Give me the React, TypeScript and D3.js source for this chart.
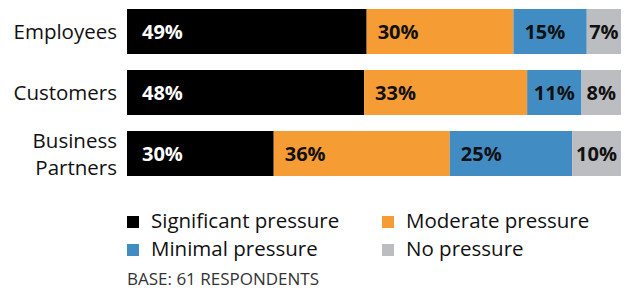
import React, { useEffect, useRef } from "react";
import * as d3 from "d3";

const categories = ["Employees", "Customers", "Business Partners"];
const seriesNames = ["Significant pressure", "Moderate pressure", "Minimal pressure", "No pressure"];
const significant = [49, 48, 30];
const moderate = [30, 33, 36];
const minimal = [15, 11, 25];
const noPressure = [7, 8, 10];
const colors = ["#000000", "#F59C34", "#428CC4", "#BCBDC0"];
const labelColors = ["#ffffff", "#111111", "#111111", "#111111"];
const footnote = "BASE: 61 RESPONDENTS";

const App: React.FC = () => {
  const svgRef = useRef<SVGSVGElement>(null);

  useEffect(() => {
    if (!svgRef.current) return;
    const svg = d3.select(svgRef.current);
    svg.selectAll("*").remove();

    const font = "'Open Sans', sans-serif";
    const left = 127;
    const right = 621;
    const values = [significant, moderate, minimal, noPressure];

    // 45px bars on a 61px step
    const y = d3.scaleBand<string>()
      .domain(categories)
      .range([9, 176])
      .paddingInner(16 / 61)
      .paddingOuter(0);

    // category labels
    categories.forEach((c) => {
      const words = c.split(" ");
      const cy = (y(c) as number) + y.bandwidth() / 2;
      const t = svg.append("text")
        .attr("text-anchor", "end")
        .attr("font-family", font)
        .attr("font-size", 20.5)
        .attr("fill", "#111");
      if (words.length === 1) {
        t.append("tspan").attr("x", 117).attr("y", cy + 7).text(c);
      } else {
        t.append("tspan").attr("x", 117).attr("y", cy - 6).text(words[0]);
        t.append("tspan").attr("x", 117).attr("y", cy + 21).text(words[1]);
      }
    });

    // stacked bars, each row normalised to full width
    categories.forEach((c, i) => {
      const rowVals = values.map((v) => v[i]);
      const total = d3.sum(rowVals);
      const x = d3.scaleLinear().domain([0, total]).range([left, right]);
      let acc = 0;
      rowVals.forEach((v, s) => {
        const x0 = x(acc);
        const x1 = x(acc + v);
        acc += v;
        svg.append("rect")
          .attr("x", x0)
          .attr("y", y(c) as number)
          .attr("width", x1 - x0)
          .attr("height", y.bandwidth())
          .attr("fill", colors[s]);
        const label = svg.append("text")
          .attr("y", (y(c) as number) + y.bandwidth() / 2 + 7)
          .attr("font-family", font)
          .attr("font-weight", 700)
          .attr("font-size", 20)
          .attr("fill", labelColors[s])
          .text(`${v}%`);
        const tw = (label.node() as SVGTextElement).getComputedTextLength();
        const w = x1 - x0;
        const pad = Math.max(1, Math.min(s === 0 ? 15 : 11, (w - tw) / 2));
        label.attr("x", x0 + pad);
      });
    });

    // legend
    const legendCols = [127, 382];
    const legendRows = [228, 256];
    seriesNames.forEach((name, s) => {
      const lx = legendCols[s % 2];
      const ly = legendRows[Math.floor(s / 2)];
      svg.append("rect")
        .attr("x", lx)
        .attr("y", ly - 12)
        .attr("width", 12)
        .attr("height", 12)
        .attr("fill", colors[s]);
      svg.append("text")
        .attr("x", lx + 24)
        .attr("y", ly)
        .attr("font-family", font)
        .attr("font-size", 20.5)
        .attr("fill", "#111")
        .text(name);
    });

    svg.append("text")
      .attr("x", 127)
      .attr("y", 285)
      .attr("font-family", font)
      .attr("font-size", 17)
      .attr("fill", "#333")
      .text(footnote);
  }, []);

  return (
    <svg
      ref={svgRef}
      width={625}
      height={290}
      style={{ position: "absolute", left: 0, top: 0, background: "#fff" }}
    />
  );
};

export default App;
